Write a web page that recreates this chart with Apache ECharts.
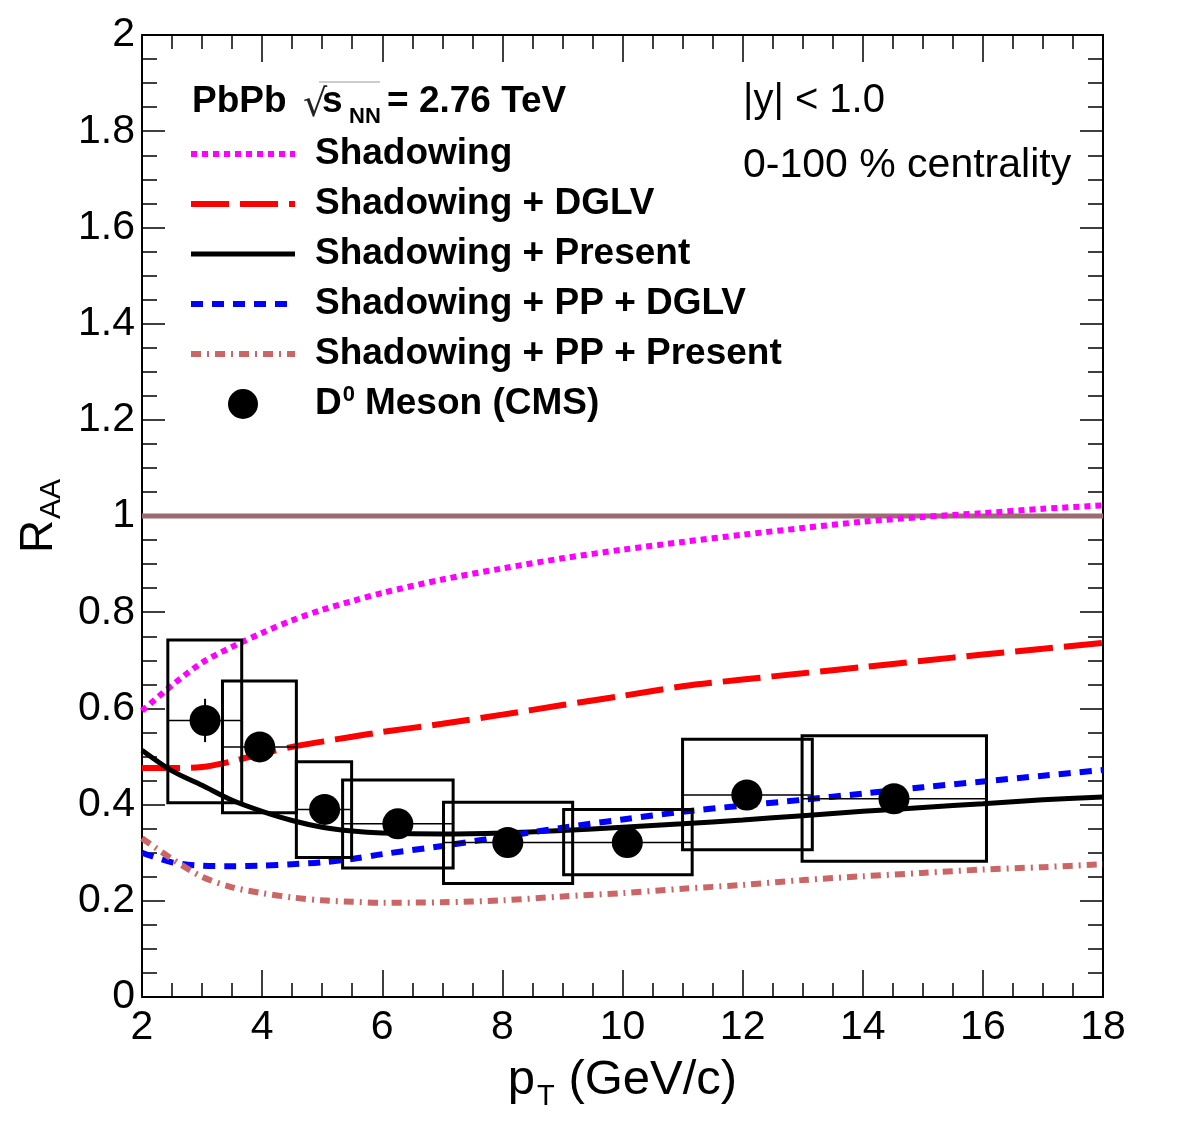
<!DOCTYPE html>
<html>
<head>
<meta charset="utf-8">
<script src="https://cdn.jsdelivr.net/npm/echarts@6/dist/echarts.min.js"></script>
<style>
html,body{margin:0;padding:0;background:#fff;}
#chart{width:1182px;height:1134px;}
</style>
</head>
<body>
<div id="chart"></div>
<script>
// ---- data ----
const ptCurve = [2, 2.5, 3, 3.5, 4, 4.5, 5, 5.5, 6, 7, 8, 9, 10, 11, 12, 13, 14, 15, 16, 17, 18];
const shadowing = [0.595, 0.648, 0.695, 0.728, 0.757, 0.783, 0.805, 0.823, 0.84, 0.868, 0.891, 0.912, 0.93, 0.946, 0.961, 0.975, 0.988, 0.998, 1.006, 1.015, 1.022];
const shadowingDGLV = [0.476, 0.476, 0.478, 0.49, 0.506, 0.52, 0.531, 0.541, 0.551, 0.568, 0.587, 0.607, 0.626, 0.646, 0.66, 0.673, 0.686, 0.699, 0.712, 0.724, 0.736];
const shadowingPresent = [0.513, 0.47, 0.44, 0.409, 0.386, 0.367, 0.353, 0.345, 0.341, 0.339, 0.341, 0.346, 0.353, 0.36, 0.368, 0.377, 0.386, 0.394, 0.402, 0.41, 0.416];
const shadowingPPDGLV = [0.3, 0.28, 0.273, 0.272, 0.273, 0.276, 0.28, 0.287, 0.297, 0.314, 0.333, 0.352, 0.369, 0.385, 0.398, 0.41, 0.423, 0.436, 0.448, 0.46, 0.472];
const shadowingPPPresent = [0.33, 0.287, 0.25, 0.228, 0.216, 0.207, 0.201, 0.198, 0.196, 0.197, 0.201, 0.209, 0.216, 0.225, 0.233, 0.243, 0.251, 0.258, 0.265, 0.27, 0.276];

const ptD0 = [3.05, 3.96, 5.04, 6.26, 8.09, 10.08, 12.07, 14.52];
const raaD0 = [0.575, 0.52, 0.39, 0.36, 0.321, 0.321, 0.42, 0.412];
const binLo = [2.43, 3.34, 4.57, 5.34, 7.02, 9.02, 11.0, 12.99];
const binHi = [3.66, 4.57, 5.49, 7.18, 9.17, 11.16, 13.16, 16.06];
const sysLo = [0.404, 0.383, 0.29, 0.268, 0.236, 0.254, 0.306, 0.282];
const sysHi = [0.742, 0.657, 0.489, 0.451, 0.405, 0.39, 0.536, 0.543];
const statErr = [0.045, 0.028, 0.025, 0.025, 0.02, 0.02, 0.028, 0.028];

const unityLine = [[2, 1], [18, 1]];
const xTicks = [2, 4, 6, 8, 10, 12, 14, 16, 18];
const yTicks = [0, 0.2, 0.4, 0.6, 0.8, 1, 1.2, 1.4, 1.6, 1.8, 2];

const names = ['Shadowing', 'Shadowing + DGLV', 'Shadowing + Present', 'Shadowing + PP + DGLV', 'Shadowing + PP + Present', 'D0 Meson (CMS)'];

// ---- build ----
const zip = (xs, ys) => xs.map((x, i) => [x, ys[i]]);
const FONT = "'Liberation Sans', Arial, Helvetica, sans-serif";

function lineSeries(name, vals, color, width, type) {
  return {
    name: name, type: 'line', data: zip(ptCurve, vals), symbol: 'none', showSymbol: false, smooth: 0.3,
    xAxisIndex: 0, yAxisIndex: 0, z: 3,
    lineStyle: {color: color, width: width, type: type, cap: 'butt'},
    itemStyle: {color: color}, emphasis: {disabled: true}
  };
}

const boxData = ptD0.map((p, i) => [binLo[i], binHi[i], sysLo[i], sysHi[i], raaD0[i]]);
const statData = ptD0.map((p, i) => [p, raaD0[i] - statErr[i], raaD0[i] + statErr[i]]);

const axisCommon = {
  type: 'value', min: 2, max: 18, interval: 2,
  axisLine: {show: true, onZero: false, lineStyle: {color: '#000', width: 2}},
  splitLine: {show: false}
};

const legendData = names.map((n, i) => i < 5 ? {name: n, itemStyle: {opacity: 0}} : {name: n, itemStyle: {opacity: 1}});

const chart = echarts.init(document.getElementById('chart'), null, {renderer: 'canvas'});
const option = {
  backgroundColor: '#fff',
  animation: false,
  grid: {left: 142, right: 79, top: 35, bottom: 137, containLabel: false, outerBoundsMode: 'none'},
  xAxis: [
    Object.assign({}, axisCommon, {
      position: 'bottom',
      axisTick: {show: true, inside: true, length: 27, lineStyle: {color: '#000', width: 1.5}},
      minorTick: {show: true, splitNumber: 4, length: 14, lineStyle: {color: '#000', width: 1.5}},
      axisLabel: {show: true, color: '#000', fontFamily: FONT, fontSize: 41, margin: 10,
        formatter: v => xTicks.indexOf(v) >= 0 ? String(v) : ''},
      name: '{a|p}{b|T}{a| (GeV/c)}', nameLocation: 'middle', nameGap: 53,
      nameTextStyle: {color: '#000', fontFamily: FONT, fontSize: 49,
        rich: {a: {fontFamily: FONT, fontSize: 49, color: '#000'},
               b: {fontFamily: FONT, fontSize: 29, color: '#000', padding: [32, 0, 0, 2]}}}
    }),
    Object.assign({}, axisCommon, {
      position: 'top',
      axisTick: {show: true, inside: true, length: 27, lineStyle: {color: '#000', width: 1.5}},
      minorTick: {show: true, splitNumber: 4, length: 14, lineStyle: {color: '#000', width: 1.5}},
      axisLabel: {show: false}
    })
  ],
  yAxis: [
    {
      type: 'value', min: 0, max: 2, interval: 0.2, position: 'left',
      axisLine: {show: true, onZero: false, lineStyle: {color: '#000', width: 2}},
      splitLine: {show: false},
      axisTick: {show: true, inside: true, length: 23, lineStyle: {color: '#000', width: 1.5}},
      minorTick: {show: true, splitNumber: 4, length: 15, lineStyle: {color: '#000', width: 1.5}},
      axisLabel: {show: true, color: '#000', fontFamily: FONT, fontSize: 41, margin: 7,
        formatter: v => { const t = yTicks.find(u => Math.abs(u - v) < 1e-6); return t === undefined ? '' : String(t); }},
      name: '{a|R}{b|AA}', nameLocation: 'middle', nameGap: 64, nameRotate: 90,
      nameTextStyle: {color: '#000', fontFamily: FONT, fontSize: 46,
        rich: {a: {fontFamily: FONT, fontSize: 46, color: '#000'},
               b: {fontFamily: FONT, fontSize: 30, color: '#000', padding: [26, 0, 0, 1]}}}
    },
    {
      type: 'value', min: 0, max: 2, interval: 0.2, position: 'right',
      axisLine: {show: true, onZero: false, lineStyle: {color: '#000', width: 2}},
      splitLine: {show: false},
      axisTick: {show: true, inside: true, length: 23, lineStyle: {color: '#000', width: 1.5}},
      minorTick: {show: true, splitNumber: 4, length: 15, lineStyle: {color: '#000', width: 1.5}},
      axisLabel: {show: false}
    }
  ],
  legend: {
    show: true, orient: 'vertical', left: 188, top: 134, padding: 0,
    itemWidth: 104, itemHeight: 30, itemGap: 10, align: 'left',
    selectedMode: false,
    data: legendData,
    lineStyle: {width: 'inherit'},
    formatter: n => n === 'D0 Meson (CMS)' ? '{m|D}{s|0}{m|Meson (CMS)}' : '{m|' + n + '}',
    textStyle: {color: '#000', fontFamily: FONT, fontSize: 37, fontWeight: 'bold', lineHeight: 40, padding: [0, 0, 0, 15],
      rich: {
        m: {fontFamily: FONT, fontSize: 37, fontWeight: 'bold', color: '#000', lineHeight: 40},
        s: {fontFamily: FONT, fontSize: 22, fontWeight: 'bold', color: '#000', verticalAlign: 'top', lineHeight: 22, padding: [0, 10, 18, 1]}
      }}
  },
  series: [
    {
      type: 'line', data: unityLine, symbol: 'none', xAxisIndex: 0, yAxisIndex: 0, z: 2,
      lineStyle: {color: '#9a6b70', width: 5}, emphasis: {disabled: true}, silent: true
    },
    lineSeries(names[0], shadowing, '#ff00ff', 6, [6, 5]),
    lineSeries(names[1], shadowingDGLV, '#ff0000', 6, [38, 11]),
    lineSeries(names[2], shadowingPresent, '#000000', 5, 'solid'),
    lineSeries(names[3], shadowingPPDGLV, '#0000ff', 6, [12, 9]),
    lineSeries(names[4], shadowingPPPresent, '#cc6666', 6, [10, 6, 2, 6]),
    {
      type: 'custom', xAxisIndex: 0, yAxisIndex: 0, z: 4, silent: true,
      data: boxData, encode: {x: [0, 1], y: [2, 3]},
      renderItem: function (params, api) {
        const lo = api.value(0), hi = api.value(1), ylo = api.value(2), yhi = api.value(3), yc = api.value(4);
        const p1 = api.coord([lo, yhi]), p2 = api.coord([hi, ylo]);
        const c1 = api.coord([lo, yc]), c2 = api.coord([hi, yc]);
        return {type: 'group', children: [
          {type: 'rect', shape: {x: p1[0], y: p1[1], width: p2[0] - p1[0], height: p2[1] - p1[1]},
            style: {fill: 'none', stroke: '#000', lineWidth: 3}},
          {type: 'line', shape: {x1: c1[0], y1: c1[1], x2: c2[0], y2: c2[1]},
            style: {stroke: '#000', lineWidth: 1.5}}
        ]};
      }
    },
    {
      type: 'custom', xAxisIndex: 0, yAxisIndex: 0, z: 5, silent: true,
      data: statData, encode: {x: 0, y: [1, 2]},
      renderItem: function (params, api) {
        const a = api.coord([api.value(0), api.value(1)]), b = api.coord([api.value(0), api.value(2)]);
        return {type: 'line', shape: {x1: a[0], y1: a[1], x2: b[0], y2: b[1]}, style: {stroke: '#000', lineWidth: 2}};
      }
    },
    {
      name: names[5], type: 'scatter', data: zip(ptD0, raaD0), symbol: 'circle', symbolSize: 31,
      xAxisIndex: 0, yAxisIndex: 0, z: 6, itemStyle: {color: '#000', opacity: 1}, emphasis: {disabled: true}
    }
  ],
  graphic: [
    {type: 'text', x: 192, y: 102, style: {text: 'PbPb', font: 'bold 37px ' + FONT, fill: '#000', verticalAlign: 'middle', align: 'left'}},
    {type: 'text', x: 303, y: 106, style: {text: '\u221A', font: '38px ' + "'DejaVu Sans', sans-serif", fill: '#222', verticalAlign: 'middle', align: 'left'}},
    {type: 'line', shape: {x1: 319, y1: 82, x2: 380, y2: 82}, style: {stroke: '#bbb', lineWidth: 1.5}},
    {type: 'text', x: 322, y: 102, style: {text: 's', font: 'bold 37px ' + FONT, fill: '#000', verticalAlign: 'middle', align: 'left'}},
    {type: 'text', x: 349, y: 117, style: {text: 'NN', font: 'bold 22px ' + FONT, fill: '#000', verticalAlign: 'middle', align: 'left'}},
    {type: 'text', x: 387, y: 102, style: {text: '= 2.76 TeV', font: 'bold 37px ' + FONT, fill: '#000', verticalAlign: 'middle', align: 'left'}},
    {type: 'text', x: 743, y: 101, style: {text: '|y| < 1.0', font: '40px ' + FONT, fill: '#000', verticalAlign: 'middle', align: 'left'}},
    {type: 'text', x: 743, y: 166, style: {text: '0-100 % centrality', font: '41px ' + FONT, fill: '#000', verticalAlign: 'middle', align: 'left'}}
  ]
};
chart.setOption(option);
</script>
</body>
</html>
